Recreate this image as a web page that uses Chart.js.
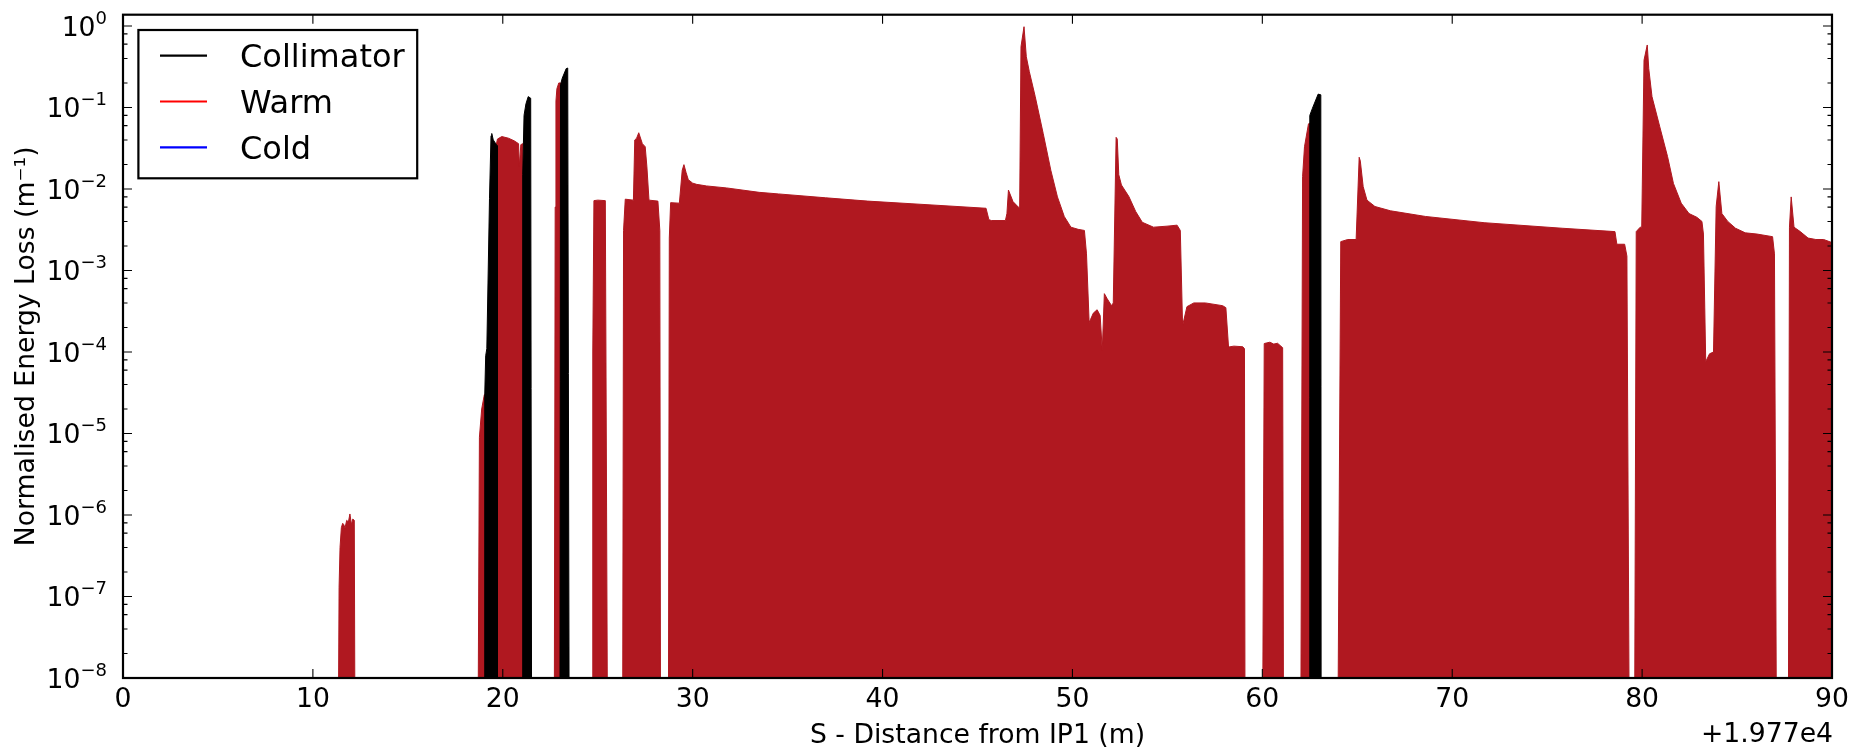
<!DOCTYPE html>
<html>
<head>
<meta charset="utf-8">
<script src="https://cdn.jsdelivr.net/npm/chart.js@4.4.1/dist/chart.umd.min.js"></script>
<style>
  html, body { margin: 0; padding: 0; background: #ffffff; }
  #wrap { width: 1862px; height: 748px; }
</style>
</head>
<body>
<div id="wrap"><canvas id="lossmap" width="1862" height="748"></canvas></div>
<script>
// Loss map along S (offset +1.977e4 m from IP1): energy loss per metre, log scale.

const sTicks = [0, 10, 20, 30, 40, 50, 60, 70, 80, 90];
const lossDecades = [-8, -7, -6, -5, -4, -3, -2, -1, 0];
const minorSubs = [2, 4, 6, 8];
const sOffsetText = '+1.977e4';

const seriesNames = ['Collimator', 'Warm', 'Cold'];
const seriesLineColors = ['#000000', '#ff0000', '#0000ff'];
const seriesFillColors = ['#000000', 'rgb(176,24,32)', '#0000ff'];

// Collimator losses (1e-9 marks the empty stretches between elements)
const collS = [
  19.02, 19.05, 19.10, 19.16, 19.30, 19.38, 19.42, 19.50, 19.70, 19.72,
  21.03, 21.05, 21.12, 21.22, 21.34, 21.47, 21.52,
  23.01, 23.04, 23.13, 23.34, 23.42, 23.50,
  62.46, 62.50, 62.64, 62.94, 63.08, 63.10
];
const collLoss = [
  1e-9, 3e-5, 9e-5, 1.1e-4, 7.6e-3, 0.045, 0.048, 0.040, 0.034, 1e-9,
  1e-9, 0.015, 0.080, 0.111, 0.136, 0.130, 1e-9,
  1e-9, 0.19, 0.228, 0.300, 0.305, 1e-9,
  1e-9, 0.080, 0.098, 0.146, 0.143, 1e-9
];

// Warm-element losses
const warmS = [
  11.33, 11.38, 11.43, 11.50, 11.57, 11.63, 11.69, 11.78, 11.87, 11.95, 12.03, 12.10, 12.18, 12.22,
  18.69, 18.77, 18.89, 19.03, 19.20, 19.60, 19.72, 19.95, 20.30, 20.60, 20.83, 20.87, 20.95, 21.06, 21.08,
  22.71, 22.76, 22.80, 22.85, 22.95, 23.05, 23.08,
  24.71, 24.74, 24.80, 25.00, 25.40, 25.52,
  26.31, 26.36, 26.45, 26.88, 26.95, 27.05, 27.16, 27.35, 27.50, 27.59, 27.70, 28.17, 28.27, 28.31,
  28.72, 28.77, 28.84, 29.30, 29.45, 29.54, 29.65, 29.77, 30.00, 30.21, 30.73, 31.79, 33.50, 34.52,
  37.00, 39.22, 41.50, 43.92, 45.45, 45.60, 45.73, 46.47, 46.55, 46.63, 46.87, 47.15, 47.22, 47.29,
  47.45, 47.57, 47.73, 48.04, 48.46, 48.86, 49.21, 49.57, 49.92, 50.30, 50.63, 50.74, 50.88, 50.95,
  51.10, 51.30, 51.46, 51.57, 51.68, 51.83, 52.06, 52.15, 52.30, 52.36, 52.44, 52.58, 52.97, 53.33,
  53.68, 54.27, 54.98, 55.51, 55.68, 55.80, 56.03, 56.39, 57.00, 57.91, 58.08, 58.22, 58.50, 58.97,
  59.06, 59.09,
  60.01, 60.10, 60.40, 60.60, 60.80, 61.07, 61.12,
  62.02, 62.12, 62.22, 62.43, 62.55, 62.58,
  63.97, 64.13, 64.50, 64.94, 65.10, 65.16, 65.31, 65.51, 65.93, 66.75, 68.60, 71.68, 75.79, 78.57,
  78.67, 79.08, 79.20, 79.33,
  79.60, 79.69, 79.90, 79.98, 80.10, 80.27, 80.35, 80.52, 80.93, 81.34, 81.65, 82.06, 82.47, 82.88,
  83.15, 83.23, 83.35, 83.55, 83.76, 83.90, 84.04, 84.20, 84.51, 84.92, 85.43, 86.05, 86.87, 86.97,
  87.08,
  87.70, 87.76, 87.85, 88.00, 88.33, 88.74, 89.15, 89.56, 90.00
];
const warmLoss = [
  1e-9, 1.3e-7, 4.0e-7, 7.0e-7, 7.9e-7, 7.6e-7, 6.9e-7, 8.6e-7, 8.2e-7, 1.03e-6, 7.6e-7, 8.9e-7, 8.6e-7, 1e-9,
  1e-9, 9e-6, 2.0e-5, 3.0e-5, 3.2e-5, 0.030, 0.041, 0.044, 0.042, 0.039, 0.036, 0.019, 0.035, 0.036, 1e-9,
  1e-9, 0.006, 0.12, 0.17, 0.20, 0.20, 1e-9,
  1e-9, 1.0e-4, 0.0072, 0.0073, 0.0072, 1e-9,
  1e-9, 0.0031, 0.0075, 0.0073, 0.040, 0.042, 0.049, 0.036, 0.033, 0.0187, 0.0073, 0.0071, 0.0031, 1e-9,
  1e-9, 0.0025, 0.0068, 0.0067, 0.017, 0.0199, 0.016, 0.013, 0.0118, 0.0114, 0.0109, 0.0103, 0.0091, 0.0087,
  0.0078, 0.0071, 0.0066, 0.0061, 0.0058, 0.0042, 0.0041, 0.0041, 0.0050, 0.0097, 0.0070, 0.0060, 0.0058, 0.557,
  0.98, 0.42, 0.275, 0.136, 0.048, 0.017, 0.0080, 0.0046, 0.0034, 0.0032, 0.0031, 0.0016, 2.3e-4, 2.5e-4,
  3.0e-4, 3.3e-4, 2.8e-4, 1.04e-4, 5.2e-4, 4.5e-4, 3.7e-4, 4.0e-4, 0.043, 0.041, 0.015, 0.0112, 0.0081, 0.0053,
  0.0039, 0.0034, 0.0035, 0.0036, 0.0031, 2.1e-4, 3.6e-4, 4.0e-4, 4.0e-4, 3.7e-4, 3.5e-4, 1.15e-4, 1.18e-4, 1.16e-4,
  1.10e-4, 1e-9,
  1e-9, 1.27e-4, 1.32e-4, 1.25e-4, 1.28e-4, 1.13e-4, 1e-9,
  1e-9, 0.0142, 0.033, 0.063, 0.065, 1e-9,
  1e-9, 0.00226, 0.0024, 0.0024, 0.0245, 0.0220, 0.0107, 0.0073, 0.0061, 0.0054, 0.0046, 0.00386, 0.0033, 0.0030,
  0.0021, 0.0021, 0.0015, 1e-9,
  1e-9, 0.0030, 0.0034, 0.0034, 0.38, 0.585, 0.30, 0.136, 0.058, 0.025, 0.0117, 0.0067, 0.0050, 0.0045,
  0.0040, 0.0028, 7.6e-5, 9.5e-5, 1.0e-4, 0.0061, 0.0123, 0.0050, 0.0040, 0.0033, 0.0029, 0.0028, 0.0026, 0.0016,
  1e-9,
  1e-9, 0.0034, 0.0080, 0.0034, 0.0030, 0.0025, 0.0024, 0.0024, 0.0022
];

// Cold-element losses (none in this stretch)
const coldS = [];
const coldLoss = [];

// ---- layout and styling ----
const W = 1862, H = 748;
const AREA = { left: 123, top: 14.7, right: 1832, bottom: 678 };
const FONT = "'DejaVu Sans', 'Liberation Sans', sans-serif";
const LABEL_PX = 26.67;
const LEGEND_PX = 32;
const MAJOR_LEN = 9, MINOR_LEN = 4.5;

Chart.defaults.font.family = FONT;
Chart.defaults.color = '#000';

const toPoints = (xs, ys) => xs.map((s, i) => ({ x: s, y: ys[i] }));
const seriesData = [toPoints(collS, collLoss), toPoints(warmS, warmLoss), toPoints(coldS, coldLoss)];

const datasets = seriesNames.map((name, i) => ({
  label: name,
  data: seriesData[i],
  borderColor: seriesFillColors[i],
  backgroundColor: seriesFillColors[i],
  legendColor: seriesLineColors[i],
  borderWidth: 1,
  pointRadius: 0,
  tension: 0,
  fill: 'start'
}));

function drawSup(ctx, base, exp, xRight, yBase) {
  ctx.textAlign = 'right';
  ctx.textBaseline = 'alphabetic';
  ctx.font = `18px ${FONT}`;
  const ew = ctx.measureText(exp).width;
  ctx.fillText(exp, xRight, yBase - 12);
  ctx.font = `${LABEL_PX}px ${FONT}`;
  ctx.fillText(base, xRight - ew, yBase);
}

const axesDecor = {
  id: 'axesDecor',
  afterDraw(chart) {
    const { ctx, chartArea: a, scales: { x, y } } = chart;
    ctx.save();
    ctx.strokeStyle = '#000';
    ctx.fillStyle = '#000';

    // inward tick marks on all four sides
    ctx.lineWidth = 1.1;
    ctx.beginPath();
    x.ticks.forEach(t => {
      const px = x.getPixelForValue(t.value);
      ctx.moveTo(px, a.bottom); ctx.lineTo(px, a.bottom - MAJOR_LEN);
      ctx.moveTo(px, a.top); ctx.lineTo(px, a.top + MAJOR_LEN);
    });
    y.ticks.forEach(t => {
      const py = y.getPixelForValue(t.value);
      const len = t.major ? MAJOR_LEN : MINOR_LEN;
      ctx.moveTo(a.left, py); ctx.lineTo(a.left + len, py);
      ctx.moveTo(a.right, py); ctx.lineTo(a.right - len, py);
    });
    ctx.stroke();

    // axes frame
    ctx.lineWidth = 2.2;
    ctx.strokeRect(a.left, a.top, a.right - a.left, a.bottom - a.top);

    // decade labels 10^n
    lossDecades.forEach(d => {
      const py = y.getPixelForValue(Math.pow(10, d));
      const exp = d < 0 ? '\u2212' + Math.abs(d) : String(d);
      drawSup(ctx, '10', exp, 107, py + 9.7);
    });

    // axis offset text
    ctx.font = `${LABEL_PX}px ${FONT}`;
    ctx.textAlign = 'right';
    ctx.textBaseline = 'alphabetic';
    ctx.fillText(sOffsetText, a.right + 1, 742);

    // legend
    const box = { x: 138.4, y: 30, w: 278.8, h: 148.3 };
    ctx.fillStyle = '#fff';
    ctx.fillRect(box.x, box.y, box.w, box.h);
    ctx.lineWidth = 2.2;
    ctx.strokeStyle = '#000';
    ctx.strokeRect(box.x, box.y, box.w, box.h);
    ctx.font = `${LEGEND_PX}px ${FONT}`;
    ctx.textAlign = 'left';
    chart.data.datasets.forEach((ds, i) => {
      const ly = 55.7 + i * 45.8;
      ctx.strokeStyle = ds.legendColor;
      ctx.lineWidth = 2.2;
      ctx.beginPath();
      ctx.moveTo(160, ly); ctx.lineTo(207, ly);
      ctx.stroke();
      ctx.fillStyle = '#000';
      ctx.fillText(ds.label, 240, ly + 11.6);
    });
    ctx.restore();
  }
};

new Chart(document.getElementById('lossmap'), {
  type: 'line',
  data: { datasets },
  options: {
    responsive: false,
    animation: false,
    devicePixelRatio: 1,
    events: [],
    layout: { padding: { left: 0, top: AREA.top, right: W - AREA.right, bottom: 0 } },
    plugins: { legend: { display: false }, tooltip: { enabled: false }, filler: { propagate: false } },
    scales: {
      x: {
        type: 'linear',
        min: 0, max: 90,
        afterBuildTicks: s => { s.ticks = sTicks.map(v => ({ value: v })); },
        afterFit: s => { s.height = H - AREA.bottom; },
        grid: { display: false, drawTicks: false },
        border: { display: false },
        ticks: {
          padding: 6, maxRotation: 0, autoSkip: false,
          font: { size: LABEL_PX }, color: '#000',
          callback: v => String(v)
        },
        title: {
          display: true, text: 'S - Distance from IP1 (m)',
          font: { size: LABEL_PX }, color: '#000',
          padding: { top: 0, bottom: -4 }
        }
      },
      y: {
        type: 'logarithmic',
        min: 1e-8, max: 1.376,
        afterBuildTicks: s => {
          const t = [];
          lossDecades.forEach(d => {
            t.push({ value: Math.pow(10, d), major: true });
            minorSubs.forEach(m => {
              const v = m * Math.pow(10, d);
              if (v <= s.max) t.push({ value: v, major: false });
            });
          });
          s.ticks = t;
        },
        afterFit: s => { s.width = AREA.left; },
        grid: { display: false, drawTicks: false },
        border: { display: false },
        ticks: { display: false },
        title: {
          display: true, text: 'Normalised Energy Loss (m\u207B\u00B9)',
          font: { size: LABEL_PX }, color: '#000',
          padding: { top: 11.5, bottom: 0 }
        }
      }
    }
  },
  plugins: [axesDecor]
});
</script>
</body>
</html>
